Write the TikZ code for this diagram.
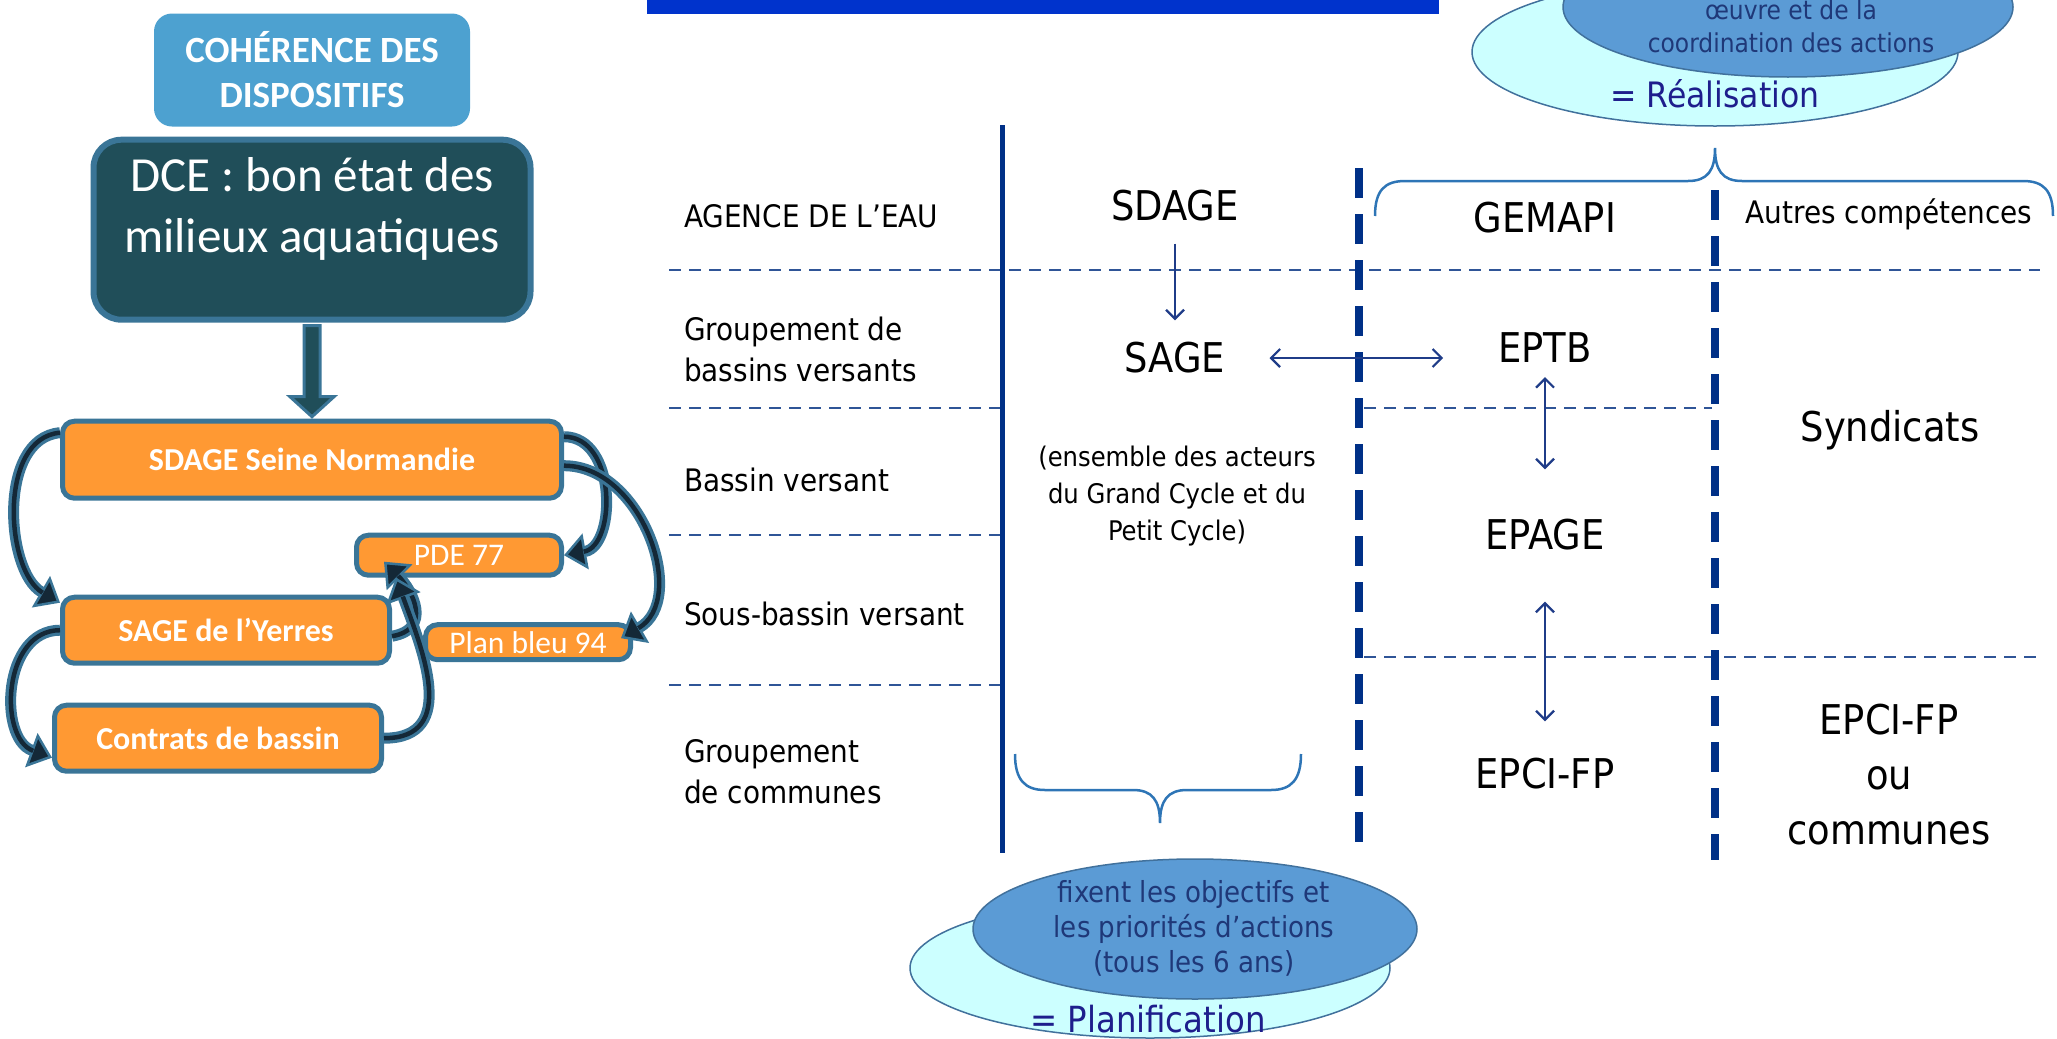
\documentclass[tikz,border=0pt]{standalone}
\usepackage{fontspec}
\setmainfont{Carlito}
\newfontfamily\tahfont{DejaVu Sans Condensed}
\usetikzlibrary{shapes.geometric,arrows.meta,positioning,calc}
\definecolor{barblue}{RGB}{0,51,204}
\definecolor{cohblue}{RGB}{77,161,208}
\definecolor{dceteal}{RGB}{32,78,89}
\definecolor{edgeblue}{RGB}{58,117,151}
\definecolor{orangefill}{RGB}{255,153,51}
\definecolor{arrowdark}{RGB}{20,40,55}
\definecolor{linenavy}{RGB}{0,48,135}
\definecolor{dashblue}{RGB}{47,85,151}
\definecolor{arrownavy}{RGB}{31,60,136}
\definecolor{bracecol}{RGB}{46,117,182}
\definecolor{lightcyan}{RGB}{204,255,255}
\definecolor{ellblue}{RGB}{91,155,213}
\definecolor{elledge}{RGB}{65,113,156}
\definecolor{elltext}{RGB}{31,56,120}
\definecolor{eqtext}{RGB}{30,30,140}

\begin{document}
\begin{tikzpicture}[
    x=1pt, y=-1pt,
    cohbox/.style={rectangle, rounded corners=18pt, fill=cohblue, text=white, align=center, inner sep=0pt, minimum width=316pt, minimum height=113pt, font=\fontsize{37}{45}\selectfont\bfseries},
    dcebox/.style={rectangle, rounded corners=28pt, fill=dceteal, draw=edgeblue, line width=6pt, text=white, align=center, inner xsep=0pt, inner ysep=0pt, minimum width=437pt, text height=113pt, text depth=67pt, font=\fontsize{49}{61}\selectfont},
    orangebox/.style={rectangle, rounded corners=12pt, fill=orangefill, draw=edgeblue, line width=5pt, text=white, inner sep=0pt, minimum width=327pt, minimum height=66pt, font=\fontsize{32}{36}\selectfont\bfseries},
    smallbox/.style={orangebox, minimum width=205pt, minimum height=35pt, font=\fontsize{31.5}{34}\selectfont},
    blockarr/.style={fill=dceteal, draw=edgeblue, line width=3pt, line join=miter},
    curvarrow/.style={draw=edgeblue, line width=11pt, -{Triangle[length=22pt,width=36pt,line width=2.5pt,fill=arrowdark]}, postaction={draw=arrowdark, line width=4.5pt, -, shorten >=20pt}},
    lvl/.style={anchor=west, align=left, inner sep=0pt, font=\tahfont\fontsize{31}{41}\selectfont},
    big/.style={align=center, inner sep=2pt, font=\tahfont\fontsize{41}{55}\selectfont},
    mid/.style={align=center, inner sep=2pt, font=\tahfont\fontsize{27}{37}\selectfont},
    solidline/.style={draw=linenavy, line width=5pt},
    bigdash/.style={draw=linenavy, line width=8pt, dash pattern=on 30pt off 16pt},
    rowdash/.style={draw=dashblue, line width=2.5pt, dash pattern=on 12pt off 8pt},
    thinarrow/.style={draw=arrownavy, line width=2.2pt, -{Straight Barb[length=9pt,width=18pt]}},
    twoway/.style={draw=arrownavy, line width=2.2pt, {Straight Barb[length=9pt,width=18pt]}-{Straight Barb[length=9pt,width=18pt]}},
    brace/.style={draw=bracecol, line width=2.5pt},
    outerell/.style={ellipse, fill=lightcyan, draw=elledge, line width=1.5pt, inner sep=0pt},
    innerell/.style={ellipse, fill=ellblue, draw=elledge, line width=1.5pt, inner sep=0pt},
    elltxt/.style={align=center, text=elltext, inner sep=0pt, font=\tahfont\fontsize{29}{35}\selectfont},
    eqtxt/.style={text=eqtext, inner sep=0pt, font=\tahfont\fontsize{35}{40}\selectfont}
]
\useasboundingbox (0,0) rectangle (2057,1039);
\clip (0,0) rectangle (2057,1039);

% Top bar
\fill[barblue] (647,0) rectangle (1439,14);

% Left panel: boxes
\node[cohbox] (coh) at (312,70) {COHÉRENCE DES\\DISPOSITIFS};
\node[dcebox, below=10pt of coh] (dce) {DCE : bon état des\\milieux aquatiques};
\node[orangebox, minimum width=499pt, minimum height=77pt, below=96pt of dce] (sdagesn) {SDAGE Seine Normandie};
\node[smallbox, minimum height=40pt, below=32pt of sdagesn.south east, anchor=north east] (pde) {PDE 77};
\node[orangebox, below=94pt of sdagesn.south west, anchor=north west] (sageyer) {SAGE de l’Yerres};
\node[smallbox, right=31pt of sageyer, yshift=-12pt] (plan) {Plan bleu 94};
\node[orangebox, below=37pt of sageyer.south west, anchor=north west, xshift=-8pt] (contrats) {Contrats de bassin};

% Left panel: arrows
\draw[blockarr] ([xshift=-8pt,yshift=-3pt]dce.south) -- ([xshift=-8pt,yshift=22pt]sdagesn.north) -- ([xshift=-22pt,yshift=22pt]sdagesn.north) -- ([yshift=2pt]sdagesn.north) -- ([xshift=22pt,yshift=22pt]sdagesn.north) -- ([xshift=8pt,yshift=22pt]sdagesn.north) -- ([xshift=8pt,yshift=-3pt]dce.south) -- cycle;
\draw[curvarrow] ([yshift=-14pt]sdagesn.north west) to[out=185, in=150, looseness=0.95] ([yshift=-8pt]sageyer.north west);
\draw[curvarrow] (sageyer.west) to[out=180, in=160, looseness=1.15] ([yshift=16pt]contrats.south west);
\draw[curvarrow] ([yshift=-18pt]sdagesn.north east) to[out=0, in=10, looseness=1.15] (pde.east);
\draw[curvarrow] ([yshift=-6pt]sdagesn.east) to[out=0, in=30, looseness=1.1] ([xshift=-12pt,yshift=4pt]plan.east);
\draw[curvarrow] ([yshift=-6pt]sageyer.east) to[out=10, in=-45, looseness=1.4] ([xshift=30pt,yshift=16pt]pde.south west);
\draw[curvarrow] (contrats.east) to[out=0, in=-70, looseness=1.2] ([xshift=42pt]pde.south west);

% Right panel: grid
\draw[rowdash] (669,270) -- (2040,270);
\draw[rowdash] (669,408) -- (1002,408);
\draw[rowdash] (1364,408) -- (1712,408);
\draw[rowdash] (669,535) -- (1002,535);
\draw[rowdash] (669,685) -- (1002,685);
\draw[rowdash] (1364,657) -- (2040,657);
\draw[solidline] (1002,125) -- (1002,853);
\draw[bigdash] (1359,168) -- (1359,853);
\draw[bigdash] (1715,190) -- (1715,860);

% Right panel: levels
\node[lvl] (agence) at (684,216) {AGENCE DE L’EAU};
\node[lvl] (grpbv) at (684,349) {Groupement de\\bassins versants};
\node[lvl] (bv) at (684,480) {Bassin versant};
\node[lvl] (sbv) at (684,614) {Sous-bassin versant};
\node[lvl] (grpcom) at (684,772) {Groupement\\de communes};

% Right panel: structures
\node[big] (sdage) at (1175,206) {SDAGE};
\node[big] (sage) at (1175,358) {SAGE};
\node[mid] (acteurs) at (1177,496) {(ensemble des acteurs\\du Grand Cycle et du\\Petit Cycle)};
\node[big] (gemapi) at (1545,218) {GEMAPI};
\node[big] (eptb) at (1545,348) {EPTB};
\node[big] (epage) at (1545,535) {EPAGE};
\node[big] (epci) at (1545,774) {EPCI-FP};
\node[mid, font=\tahfont\fontsize{31}{37}\selectfont] (autres) at (1889,214) {Autres compétences};
\node[big] (syndicats) at (1890,430) {Syndicats};
\node[big] (epcicom) at (1889,775) {EPCI-FP\\ou\\communes};

% Right panel: arrows
\draw[thinarrow] ([yshift=-20pt]sdage.south) -- ([yshift=20pt]sage.north);
\draw[twoway] ([xshift=42pt]sage.east) -- ($(sage.east -| eptb.west)+(-53,0)$);
\draw[twoway] ([yshift=-12pt]eptb.south) -- ([yshift=48pt]epage.north);
\draw[twoway] ([yshift=-49pt]epage.south) -- ([yshift=35pt]epci.north);

% Braces
\draw[brace] (1375,216) .. controls (1375,190) and (1385,181) .. (1405,181) -- (1688,181) .. controls (1708,181) and (1715,170) .. (1715,148) .. controls (1715,170) and (1722,181) .. (1742,181) -- (2023,181) .. controls (2043,181) and (2053,190) .. (2053,216);
\draw[brace] (1015,754) .. controls (1015,780) and (1025,790) .. (1045,790) -- (1133,790) .. controls (1152,790) and (1160,800) .. (1160,823) .. controls (1160,800) and (1168,790) .. (1187,790) -- (1271,790) .. controls (1291,790) and (1301,780) .. (1301,754);

% Ellipses: realisation
\node[outerell, minimum width=486pt, minimum height=148pt] (realell) at (1715,52) {};
\node[innerell, minimum width=450pt, minimum height=140pt] (coordell) at (1788,7) {};
\node[elltxt, font=\tahfont\fontsize{26}{33}\selectfont] (coordtxt) at (1791,26) {œuvre et de la\\coordination des actions};
\node[eqtxt] (realtxt) at (1715,94) {= Réalisation};

% Ellipses: planification
\node[outerell, minimum width=480pt, minimum height=140pt] (planell) at (1150,968) {};
\node[innerell, minimum width=444pt, minimum height=140pt] (objell) at (1195,929) {};
\node[elltxt] (objtxt) at (1194,928) {fixent les objectifs et\\les priorités d’actions\\(tous les 6 ans)};
\node[eqtxt, font=\tahfont\fontsize{36}{40}\selectfont] (plantxt) at (1148,1019) {= Planification};

\end{tikzpicture}
\end{document}
